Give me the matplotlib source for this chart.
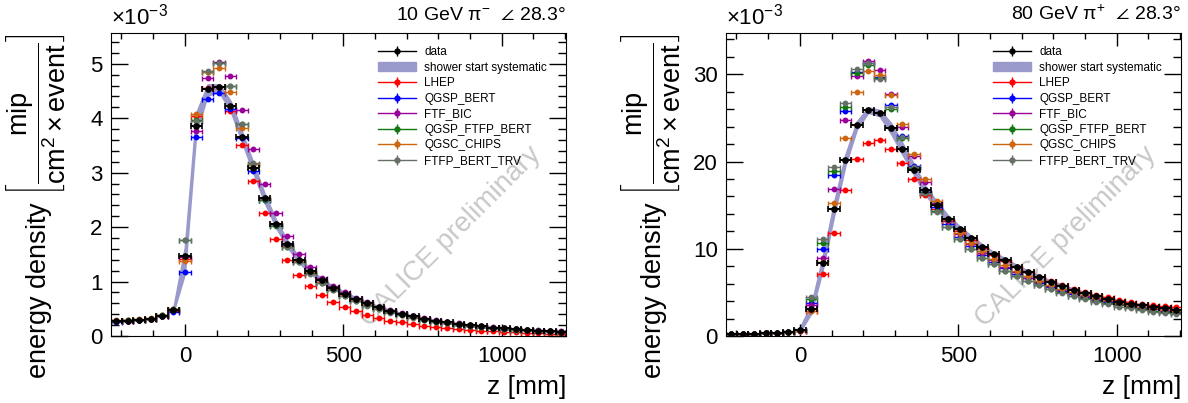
import numpy as np
import matplotlib
matplotlib.use('Agg')
import matplotlib.pyplot as plt
from matplotlib.ticker import MultipleLocator
from matplotlib.lines import Line2D
from matplotlib.patches import Patch

plt.rcParams['font.family'] = ['Liberation Sans', 'DejaVu Sans']
plt.rcParams['mathtext.fontset'] = 'custom'
plt.rcParams['mathtext.rm'] = 'Liberation Sans'
plt.rcParams['mathtext.it'] = 'Liberation Sans:italic'
plt.rcParams['mathtext.bf'] = 'Liberation Sans:bold'

# bin centres along the shower axis [mm]
z = [-216, -180, -144, -108, -72, -36, 0, 36, 72, 108, 144, 180, 216, 252, 288, 324,
     360, 396, 432, 468, 504, 540, 576, 612, 648, 684, 720, 756, 792, 828, 864, 900,
     936, 972, 1008, 1044, 1080, 1116, 1152, 1188]

# ---- 10 GeV pi- (values x 1e-3) ----
data_10 = [0.27, 0.28, 0.29, 0.31, 0.37, 0.47, 1.47, 3.85, 4.53, 4.57, 4.23, 3.66, 3.09, 2.53,
           2.06, 1.69, 1.40, 1.19, 1.02, 0.89, 0.78, 0.68, 0.60, 0.53, 0.46, 0.41, 0.36, 0.32,
           0.28, 0.25, 0.22, 0.20, 0.175, 0.155, 0.14, 0.125, 0.11, 0.10, 0.09, 0.08]
lhep_10 = [0.27, 0.28, 0.29, 0.31, 0.37, 0.46, 1.42, 4.04, 4.55, 4.58, 4.14, 3.50, 2.84, 2.26,
           1.78, 1.40, 1.12, 0.92, 0.75, 0.63, 0.53, 0.45, 0.38, 0.33, 0.28, 0.25, 0.22, 0.19,
           0.17, 0.15, 0.13, 0.115, 0.10, 0.09, 0.075, 0.065, 0.055, 0.05, 0.045, 0.04]
qgsp_10 = [0.26, 0.27, 0.29, 0.31, 0.36, 0.44, 1.17, 3.65, 4.35, 4.46, 4.17, 3.64, 3.03, 2.49,
           2.04, 1.67, 1.38, 1.17, 1.00, 0.87, 0.76, 0.66, 0.58, 0.51, 0.45, 0.40, 0.35, 0.31,
           0.27, 0.24, 0.21, 0.19, 0.17, 0.15, 0.135, 0.12, 0.105, 0.095, 0.085, 0.075]
ftfbic_10 = [0.27, 0.28, 0.30, 0.32, 0.37, 0.47, 1.45, 3.77, 4.73, 5.04, 4.78, 4.15, 3.44, 2.80,
             2.26, 1.83, 1.50, 1.26, 1.07, 0.92, 0.80, 0.70, 0.62, 0.54, 0.47, 0.42, 0.37, 0.33,
             0.29, 0.26, 0.23, 0.205, 0.18, 0.16, 0.145, 0.13, 0.115, 0.105, 0.095, 0.085]
ftfp_10 = [0.28, 0.29, 0.30, 0.32, 0.38, 0.49, 1.76, 3.96, 4.85, 5.02, 4.60, 3.90, 3.16, 2.50,
           2.02, 1.64, 1.36, 1.15, 0.98, 0.85, 0.74, 0.65, 0.57, 0.50, 0.44, 0.39, 0.34, 0.30,
           0.265, 0.235, 0.21, 0.19, 0.165, 0.148, 0.132, 0.118, 0.104, 0.094, 0.084, 0.074]
chips_10 = [0.29, 0.30, 0.31, 0.33, 0.38, 0.50, 1.38, 4.07, 4.85, 4.92, 4.48, 3.82, 3.16, 2.53,
            2.05, 1.66, 1.38, 1.17, 0.99, 0.86, 0.75, 0.66, 0.58, 0.51, 0.45, 0.40, 0.35, 0.31,
            0.27, 0.24, 0.215, 0.19, 0.17, 0.15, 0.135, 0.12, 0.107, 0.096, 0.086, 0.076]
trv_10 = [0.28, 0.29, 0.30, 0.32, 0.38, 0.49, 1.77, 3.95, 4.86, 5.02, 4.60, 3.90, 3.17, 2.51,
          2.03, 1.64, 1.36, 1.14, 0.97, 0.84, 0.73, 0.64, 0.56, 0.49, 0.43, 0.38, 0.335, 0.295,
          0.26, 0.23, 0.205, 0.185, 0.163, 0.145, 0.13, 0.116, 0.102, 0.092, 0.082, 0.072]
# shower start systematic band, from z = -36 mm on
band_z_10 = z[5:]
band_lo_10 = [0.44, 1.15, 3.75, 4.42, 4.48, 4.14, 3.57, 3.00, 2.45, 1.99, 1.63, 1.35, 1.15, 0.98,
              0.86, 0.75, 0.66, 0.58, 0.51, 0.45, 0.39, 0.35, 0.31, 0.27, 0.24, 0.21, 0.19,
              0.165, 0.145, 0.13, 0.115, 0.10, 0.09, 0.08, 0.07]
band_hi_10 = [0.52, 1.62, 4.10, 4.62, 4.62, 4.32, 3.76, 3.18, 2.61, 2.13, 1.75, 1.45, 1.23, 1.05,
              0.92, 0.81, 0.71, 0.62, 0.55, 0.48, 0.42, 0.37, 0.33, 0.29, 0.26, 0.23, 0.21,
              0.185, 0.165, 0.15, 0.135, 0.12, 0.11, 0.10, 0.09]

# ---- 80 GeV pi+ (values x 1e-3) ----
data_80 = [0.22, 0.24, 0.27, 0.30, 0.35, 0.45, 0.69, 3.13, 8.32, 14.55, 20.2, 24.2, 25.88, 25.53,
           23.82, 21.49, 19.08, 16.72, 15.0, 13.4, 12.25, 11.18, 10.19, 9.35, 8.66, 7.94, 7.29,
           6.76, 6.18, 5.73, 5.27, 4.89, 4.54, 4.24, 3.95, 3.72, 3.50, 3.32, 3.17, 3.02]
lhep_80 = [0.22, 0.24, 0.27, 0.30, 0.35, 0.43, 0.60, 2.90, 7.07, 11.85, 16.72, 20.3, 22.13, 22.44,
           21.49, 19.85, 17.98, 16.2, 14.6, 13.2, 12.0, 10.95, 10.05, 9.25, 8.55, 7.9, 7.3, 6.78,
           6.25, 5.82, 5.4, 5.05, 4.72, 4.43, 4.16, 3.93, 3.72, 3.55, 3.42, 3.32]
qgsp_80 = [0.22, 0.24, 0.27, 0.30, 0.36, 0.46, 0.65, 3.74, 10.0, 18.4, 25.8, 30.3, 31.3, 29.7,
           26.53, 22.9, 19.5, 16.5, 14.8, 12.8, 11.4, 10.3, 9.3, 8.5, 7.8, 7.15, 6.6, 6.1, 5.6,
           5.2, 4.8, 4.45, 4.15, 3.88, 3.62, 3.4, 3.2, 3.04, 2.9, 2.78]
ftfbic_80 = [0.22, 0.24, 0.27, 0.30, 0.35, 0.44, 0.60, 3.52, 8.97, 16.9, 24.73, 29.77, 31.5, 30.53,
             27.79, 24.0, 20.6, 17.6, 15.2, 13.2, 11.7, 10.5, 9.5, 8.7, 7.95, 7.3, 6.7, 6.2, 5.7,
             5.28, 4.9, 4.55, 4.24, 3.96, 3.7, 3.48, 3.28, 3.1, 2.95, 2.82]
ftfp_80 = [0.23, 0.25, 0.28, 0.31, 0.37, 0.47, 0.70, 4.2, 10.69, 18.9, 26.26, 30.15, 31.1, 29.55,
           26.07, 22.7, 19.3, 16.4, 14.3, 12.5, 11.1, 9.95, 8.95, 8.2, 7.5, 6.9, 6.35, 5.85, 5.4,
           5.0, 4.62, 4.3, 4.0, 3.74, 3.5, 3.28, 3.08, 2.9, 2.75, 2.6]
chips_80 = [0.22, 0.24, 0.27, 0.30, 0.35, 0.44, 0.60, 2.9, 8.5, 15.3, 22.67, 28.02, 30.38, 29.96,
            27.6, 24.28, 20.9, 17.95, 15.46, 13.3, 11.83, 10.69, 9.7, 8.85, 8.1, 7.45, 6.85, 6.33,
            5.85, 5.42, 5.03, 4.68, 4.36, 4.07, 3.8, 3.57, 3.36, 3.18, 3.02, 2.88]
trv_80 = [0.23, 0.25, 0.28, 0.31, 0.37, 0.48, 0.72, 4.45, 11.07, 19.4, 26.68, 30.6, 31.34, 29.43,
          26.3, 22.8, 19.4, 16.4, 14.23, 12.44, 11.07, 9.92, 8.97, 8.2, 7.48, 6.85, 6.3, 5.8, 5.33,
          4.92, 4.55, 4.2, 3.9, 3.62, 3.38, 3.16, 2.96, 2.78, 2.63, 2.5]
band_z_80 = z[6:]
band_lo_80 = [0.45, 2.6, 7.6, 13.8, 19.6, 23.7, 25.6, 25.2, 23.2, 20.8, 18.5, 16.2, 14.6, 13.0,
              11.9, 10.9, 9.9, 9.1, 8.45, 7.75, 7.1, 6.6, 6.02, 5.58, 5.13, 4.76, 4.42, 4.12,
              3.83, 3.6, 3.39, 3.21, 3.06, 2.91]
band_hi_80 = [0.95, 3.6, 9.0, 15.3, 20.8, 24.6, 26.2, 25.9, 24.4, 22.1, 19.7, 17.2, 15.4, 13.8,
              12.6, 11.5, 10.5, 9.6, 8.9, 8.15, 7.5, 6.95, 6.35, 5.9, 5.42, 5.03, 4.67, 4.36,
              4.07, 3.84, 3.61, 3.43, 3.28, 3.13]

mc_names = ['LHEP', 'QGSP_BERT', 'FTF_BIC', 'QGSP_FTFP_BERT', 'QGSC_CHIPS', 'FTFP_BERT_TRV']
mc_colors = ['#ff0000', '#0000ff', '#990099', '#117711', '#cc6611', '#667066']
band_color = '#9999cc'

panels = [
    dict(data=data_10, mc=[lhep_10, qgsp_10, ftfbic_10, ftfp_10, chips_10, trv_10],
         bz=band_z_10, blo=band_lo_10, bhi=band_hi_10, ymax=5.565, ymaj=1, ymin=0.2,
         title=r'10 GeV π$^{-}$  $\angle$ 28.3°', left=111),
    dict(data=data_80, mc=[lhep_80, qgsp_80, ftfbic_80, ftfp_80, chips_80, trv_80],
         bz=band_z_80, blo=band_lo_80, bhi=band_hi_80, ymax=34.73, ymaj=10, ymin=2,
         title=r'80 GeV π$^{+}$  $\angle$ 28.3°', left=726),
]

W, H = 1188, 403
fig = plt.figure(figsize=(W / 100, H / 100), dpi=100)

for p in panels:
    ax = fig.add_axes([p['left'] / W, (H - 336) / H, 455 / W, 303 / H])
    ax.fill_between(p['bz'], p['blo'], p['bhi'], color=band_color, lw=1.2,
                    edgecolor=band_color, zorder=1)
    for vals, c in zip(p['mc'], mc_colors):
        ax.errorbar(z, vals, xerr=18, fmt='o', ms=3.2, color=c, ecolor=c,
                    elinewidth=1, capsize=1.8, capthick=1, zorder=2)
    ax.errorbar(z, p['data'], xerr=18, fmt='o', ms=3.8, color='black', ecolor='black',
                elinewidth=1.5, capsize=2, capthick=1.2, zorder=3)

    ax.set_xlim(-233, 1203)
    ax.set_ylim(0, p['ymax'])
    ax.xaxis.set_major_locator(MultipleLocator(500))
    ax.xaxis.set_minor_locator(MultipleLocator(100))
    ax.yaxis.set_major_locator(MultipleLocator(p['ymaj']))
    ax.yaxis.set_minor_locator(MultipleLocator(p['ymin']))
    ax.tick_params(which='both', direction='in', top=True, right=True, labelsize=16, width=1)
    ax.tick_params(axis='x', which='major', length=9, pad=7)
    ax.tick_params(axis='x', which='minor', length=4.5)
    ax.tick_params(axis='y', which='major', length=12, pad=6)
    ax.tick_params(axis='y', which='minor', length=6)

    ax.text(1.0, 1.03, p['title'], transform=ax.transAxes, ha='right', va='bottom', fontsize=14)
    ax.text(0.0, 1.01, r'$\times$10$^{-3}$', transform=ax.transAxes, ha='left', va='bottom',
            fontsize=16)
    ax.text(1.0, -0.19, 'z [mm]', transform=ax.transAxes, ha='right', va='baseline', fontsize=19)
    ax.text(0.748, 0.327, 'CALICE preliminary', transform=ax.transAxes, rotation=45,
            ha='center', va='center', fontsize=20, color='#c8c8c8', zorder=0)

    lx = (p['left'] - 103 + 28) / W
    fig.text(lx, (H - 206) / H,
             r'energy density $\left[\dfrac{\mathrm{mip}}{\mathrm{cm}^{2}\times\mathrm{event}}\right]$',
             rotation=90, ha='center', va='center', fontsize=19.5)

    handles = [(Line2D([], [], color='black', lw=1, marker='o', ms=3.5),
                Line2D([], [], color='black', lw=0, marker='|', ms=7))]
    handles.append(Patch(facecolor=band_color, edgecolor=band_color))
    for c in mc_colors:
        handles.append((Line2D([], [], color=c, lw=1, marker='o', ms=3.5),
                        Line2D([], [], color=c, lw=0, marker='|', ms=7)))
    labels = ['data', 'shower start systematic'] + mc_names
    ax.legend(handles, labels, loc='upper left', bbox_to_anchor=(0.587, 0.957), frameon=False,
              fontsize=8.5, handlelength=3.2, handletextpad=0.7, labelspacing=0.3,
              borderpad=0, borderaxespad=0)

fig.savefig('out.png', dpi=100)
